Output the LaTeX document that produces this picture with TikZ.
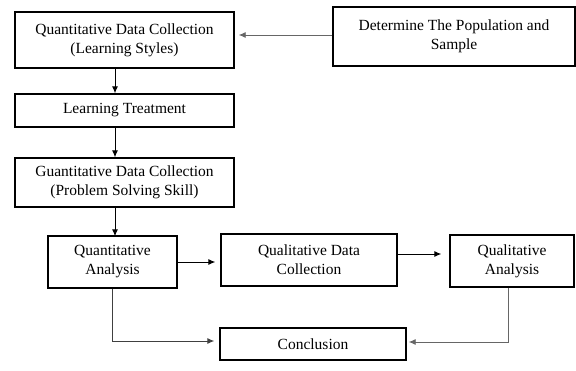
\documentclass[tikz,border=0pt]{standalone}
\usepackage{fontspec}
\setmainfont{Liberation Serif}
\usetikzlibrary{arrows.meta,calc}
\begin{document}
\begin{tikzpicture}[x=1pt,y=-1pt,
  box/.style={draw=black,line width=1.4pt,align=center,inner sep=2pt,
    font=\fontsize{15.5}{19}\selectfont},
  arr/.style={line width=0.9pt,-{Latex[length=7pt,width=6pt]}},
  garr/.style={arr,draw=black!60}]
\useasboundingbox (0,0) rectangle (576,370);
\node[box,minimum width=219pt,minimum height=56pt] (qdc1) at (124.5,40) {Quantitative Data Collection\\(Learning Styles)};
\node[box,minimum width=242pt,minimum height=59pt] (det) at (454,36.5) {Determine The Population and\\Sample};
\node[box,minimum width=219pt,minimum height=33pt] (lt) at (124.5,110.5) {Learning Treatment};
\node[box,minimum width=219pt,minimum height=49pt] (gdc) at (124.5,182.5) {Guantitative Data Collection\\(Problem Solving Skill)};
\node[box,minimum width=129pt,minimum height=52pt] (qa) at (112.5,262) {Quantitative\\Analysis};
\node[box,minimum width=176pt,minimum height=52pt] (qldc) at (309,260) {Qualitative Data\\Collection};
\node[box,minimum width=124pt,minimum height=52pt] (qla) at (512,261) {Qualitative\\Analysis};
\node[box,minimum width=186pt,minimum height=32pt] (con) at (313,344) {Conclusion};
\draw[garr,shorten >=4pt] ([yshift=1.5pt]det.west) -- ([yshift=1.5pt]det.west -| qdc1.east);
\draw[arr] ([xshift=-9.5pt]qdc1.south) -- ([xshift=-9.5pt]lt.north);
\draw[arr] ([xshift=-9.5pt]lt.south) -- ([xshift=-9.5pt]gdc.north);
\draw[arr] ([xshift=-9.5pt]gdc.south) -- ([xshift=-9.5pt,yshift=-1pt]gdc.south |- qa.north);
\draw[arr,shorten >=5pt] (qa.east) -- (qa.east -| qldc.west);
\draw[arr,shorten >=8pt] ([yshift=6pt]qldc.east) -- ([yshift=6pt]qldc.east -| qla.west);
\coordinate (c1) at ([yshift=3pt]con.west);
\coordinate (c2) at ([yshift=2pt]con.east);
\draw[garr,draw=black!75,shorten >=5pt] (qa.south) |- (c1);
\draw[garr,shorten >=2pt] ([xshift=-4pt]qla.south) |- (c2);
\end{tikzpicture}
\end{document}
